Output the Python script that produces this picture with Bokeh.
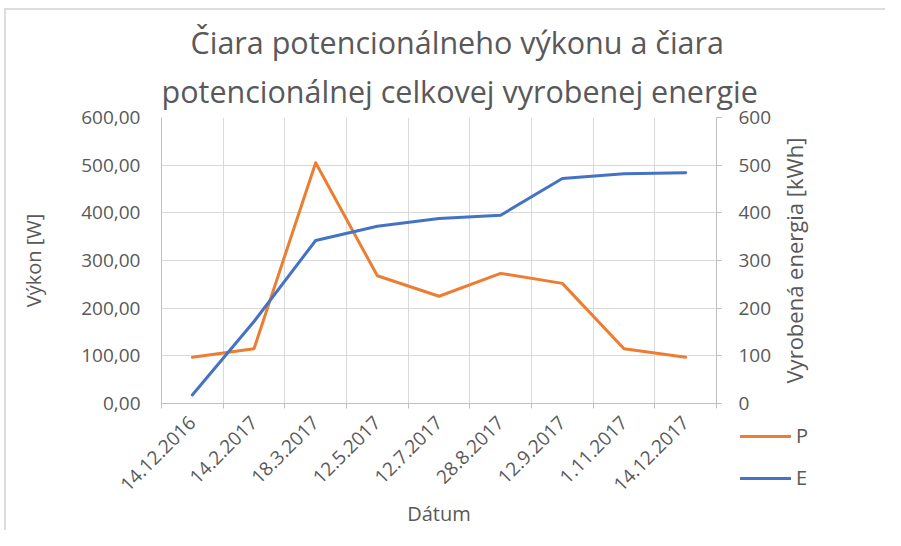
import numpy as np
from bokeh.plotting import figure
from bokeh.models import (Range1d, LinearAxis, FixedTicker, Grid, Legend, LegendItem,
                          ColumnDataSource, Title, Div, Label)
from bokeh.layouts import column
from bokeh.embed import file_html
from bokeh.resources import INLINE

dates = ["14.12.2016", "14.2.2017", "18.3.2017", "12.5.2017", "12.7.2017",
         "28.8.2017", "12.9.2017", "1.11.2017", "14.12.2017"]
P = [97, 115, 505, 268, 225, 273, 252, 115, 97]
E = [18, 172, 342, 372, 388, 395, 472, 482, 484]
y_ticks = [0, 100, 200, 300, 400, 500, 600]
y_left_labels = ["0,00", "100,00", "200,00", "300,00", "400,00", "500,00", "600,00"]
y_right_labels = ["0", "100", "200", "300", "400", "500", "600"]
title_lines = ["Čiara potencionálneho výkonu a čiara",
               "potencionálnej celkovej vyrobenej energie"]
right_axis_title = "Vyrobená energia [kWh]"
series_names = ["P", "E"]
colors = ["#ED7D31", "#4472C4"]

FONT = "Open Sans"
GREY = "#595959"
TICK_FS = "19px"
LABEL_FS = "20px"
n = len(dates)
x = np.arange(n) + 0.5
src = ColumnDataSource(dict(x=x, P=P, E=E))

p = figure(width=885, height=530, output_backend="svg", toolbar_location=None,
           x_range=Range1d(0, n), y_range=Range1d(0, 600),
           min_border_left=161, min_border_right=169, min_border_top=117, min_border_bottom=127)
p.extra_y_ranges = {"e": Range1d(0, 600)}


def style_title(t, off):
    t.align = "left"
    t.text_font = FONT
    t.text_font_size = "30.5px"
    t.text_font_style = "normal"
    t.text_color = GREY
    t.offset = off


p.title.text = title_lines[0]
style_title(p.title, 29)
p.title.standoff = 0
t2 = Title(text=title_lines[1])
style_title(t2, 0)
t2.standoff = 11
p.add_layout(t2, "above")
p.outline_line_color = None

# grids
p.xgrid.visible = False
p.ygrid.visible = False
p.add_layout(Grid(dimension=0, ticker=FixedTicker(ticks=list(range(n + 1))),
                  grid_line_color="#d9d9d9", grid_line_width=1))
p.add_layout(Grid(dimension=1, ticker=FixedTicker(ticks=y_ticks),
                  grid_line_color="#d9d9d9", grid_line_width=1))

# x axis
xa = p.xaxis[0]
xa.ticker = FixedTicker(ticks=list(x), minor_ticks=list(range(n + 1)))
xa.major_label_overrides = {float(v): d for v, d in zip(x, dates)}
xa.major_label_orientation = np.pi / 4
xa.major_tick_line_color = None
xa.major_tick_out = 0
xa.minor_tick_out = 5
xa.minor_tick_in = 0
xa.minor_tick_line_color = "#bfbfbf"
xa.axis_line_color = "#bfbfbf"
xa.major_label_text_font = FONT
xa.major_label_text_font_size = TICK_FS
xa.major_label_text_color = GREY
xa.major_label_standoff = 11
xa.axis_label = "Dátum"
xa.axis_label_text_font = FONT
xa.axis_label_text_font_size = LABEL_FS
xa.axis_label_text_font_style = "normal"
xa.axis_label_text_color = GREY
xa.axis_label_standoff = 0

# left axis
ya = p.yaxis[0]
ya.ticker = FixedTicker(ticks=y_ticks)
ya.major_label_overrides = {t: l for t, l in zip(y_ticks, y_left_labels)}
ya.major_tick_out = 0
ya.major_tick_in = 0
ya.minor_tick_line_color = None
ya.axis_line_color = "#bfbfbf"
ya.major_label_text_font = FONT
ya.major_label_text_font_size = TICK_FS
ya.major_label_text_color = GREY
ya.major_label_standoff = 21
ya.axis_label = "Výkon [W]"
ya.axis_label_text_font = FONT
ya.axis_label_text_font_size = LABEL_FS
ya.axis_label_text_font_style = "normal"
ya.axis_label_text_color = GREY
ya.axis_label_standoff = 31

# right axis (its title is drawn by the overlaid figure `af`, reading bottom-to-top)
ra = LinearAxis(y_range_name="e", ticker=FixedTicker(ticks=y_ticks))
ra.major_label_overrides = {t: l for t, l in zip(y_ticks, y_right_labels)}
ra.major_tick_out = 5
ra.major_tick_in = 0
ra.major_tick_line_color = "#bfbfbf"
ra.minor_tick_line_color = None
ra.axis_line_color = "#bfbfbf"
ra.major_label_text_font = FONT
ra.major_label_text_font_size = TICK_FS
ra.major_label_text_color = GREY
ra.major_label_standoff = 17
p.add_layout(ra, "right")

p.line("x", "P", source=src, line_color=colors[0], line_width=3, line_join="round", line_cap="round")
p.line("x", "E", source=src, y_range_name="e", line_color=colors[1], line_width=3,
       line_join="round", line_cap="round")

# legend: small overlaid figure; its lines use the same data but lie outside its view
lf = figure(width=160, height=110, output_backend="svg", toolbar_location=None,
            x_axis_location=None, y_axis_location=None,
            x_range=Range1d(0, n), y_range=Range1d(-2000, -1990),
            min_border=0, outline_line_color=None,
            background_fill_alpha=0, border_fill_alpha=0,
            styles={"margin-top": "-115px", "margin-left": "725px"})
lf.xgrid.visible = False
lf.ygrid.visible = False
items = []
for name, c in zip(series_names, colors):
    r = lf.line("x", name, source=src, line_color=c, line_width=3, line_cap="round")
    items.append(LegendItem(label=name, renderers=[r]))
legend = Legend(items=items, location=(15, 34), orientation="vertical",
                glyph_width=51, glyph_height=20, label_height=20, spacing=15,
                label_standoff=5, padding=0, margin=0,
                border_line_color=None, background_fill_alpha=0,
                label_text_font=FONT, label_text_font_size=LABEL_FS, label_text_color=GREY)
lf.add_layout(legend, "center")

# secondary axis title, overlaid so that it reads bottom-to-top
af = figure(width=40, height=286, output_backend="svg", toolbar_location=None,
            x_axis_location=None, y_axis_location=None,
            x_range=Range1d(0, 1), y_range=Range1d(0, 1),
            min_border=0, outline_line_color=None,
            background_fill_alpha=0, border_fill_alpha=0,
            styles={"margin-top": "-408px", "margin-left": "777px"})
af.xgrid.visible = False
af.ygrid.visible = False
af.add_layout(Label(x=0.5, y=0.5, text=right_axis_title, angle=np.pi / 2,
                    text_align="center", text_baseline="middle",
                    text_font=FONT, text_font_size="22px", text_color=GREY))

# light chart-area border (top and left edges)
bd = Div(text="", width=881, height=522,
         styles={"margin-top": "-395px", "margin-left": "4px",
                 "border-top": "2px solid #dcdcdc", "border-left": "2px solid #dcdcdc",
                 "box-sizing": "border-box", "pointer-events": "none"})

layout = column(p, lf, af, bd, spacing=0)
open("out.html", "w").write(file_html(layout, INLINE))
